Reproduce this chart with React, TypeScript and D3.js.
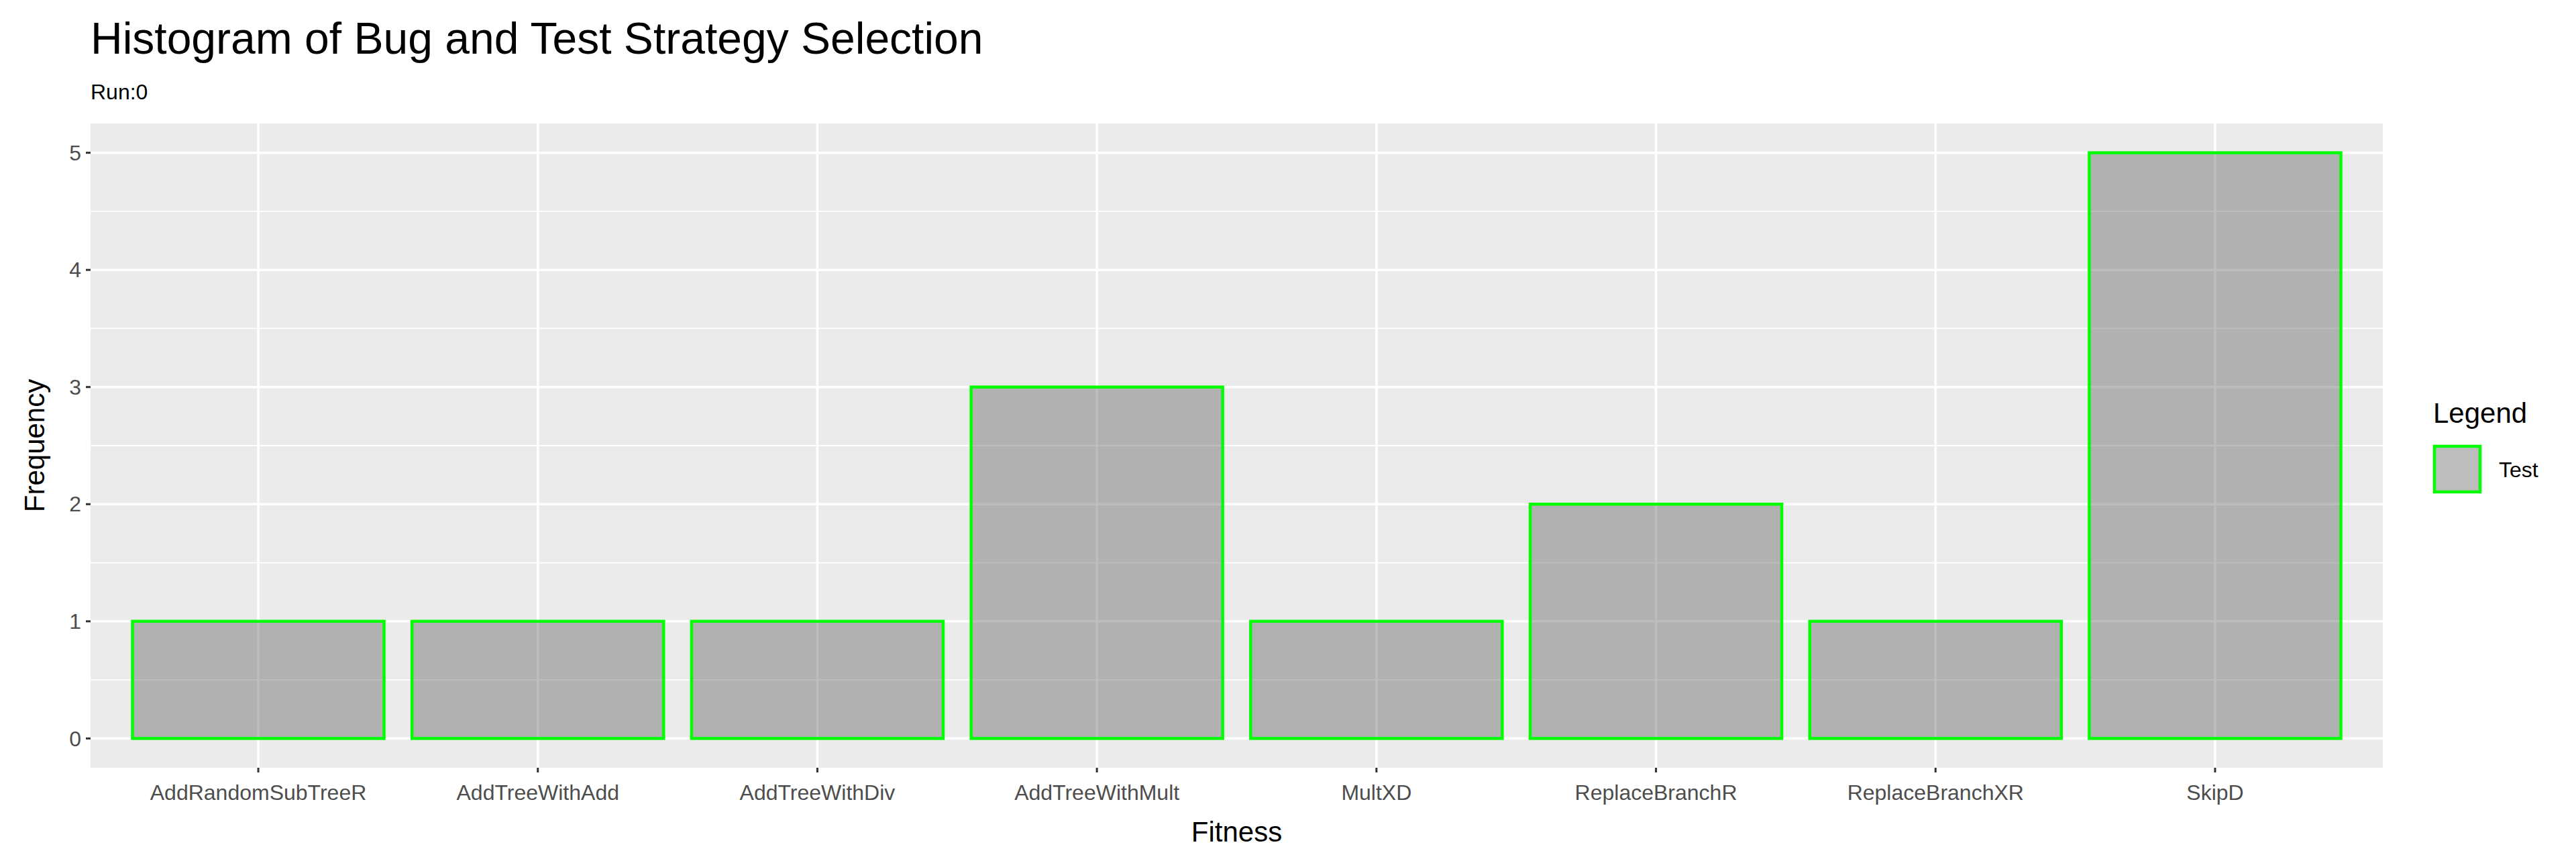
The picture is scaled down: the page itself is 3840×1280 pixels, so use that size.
import * as d3 from 'd3'

const categories = ['AddRandomSubTreeR', 'AddTreeWithAdd', 'AddTreeWithDiv', 'AddTreeWithMult', 'MultXD', 'ReplaceBranchR', 'ReplaceBranchXR', 'SkipD']
const counts = [1, 1, 1, 3, 1, 2, 1, 5]
const yTicks = [0, 1, 2, 3, 4, 5]
const minorTicks = [0.5, 1.5, 2.5, 3.5, 4.5]

const W = 3840
const H = 1280
const panel = { left: 127, right: 3544, top: 176, bottom: 1136 }
const font = '"Liberation Sans", Arial, sans-serif'

export default function App() {
  const x = d3.scaleBand<string>()
    .domain(categories)
    .range([panel.left, panel.right])
    .paddingInner(0)
    .paddingOuter(0.1)
  const y = d3.scaleLinear().domain([-0.25, 5.25]).range([panel.bottom, panel.top])
  const bw = x.bandwidth() * 0.9

  return (
    <svg width={W} height={H} style={{ display: 'block', fontFamily: font }}>
      <rect width={W} height={H} fill="#fff" />
      <text x={127} y={72} fontSize={66} fill="#000">Histogram of Bug and Test Strategy Selection</text>
      <text x={127} y={140} fontSize={32} fill="#000">Run:0</text>

      <rect x={panel.left} y={panel.top} width={panel.right - panel.left} height={panel.bottom - panel.top} fill="#EBEBEB" />
      {minorTicks.map(t => (
        <line key={'m' + t} x1={panel.left} x2={panel.right} y1={y(t)} y2={y(t)} stroke="#fff" strokeWidth={1.8} />
      ))}
      {yTicks.map(t => (
        <line key={'y' + t} x1={panel.left} x2={panel.right} y1={y(t)} y2={y(t)} stroke="#fff" strokeWidth={3.5} />
      ))}
      {categories.map(c => (
        <line key={'x' + c} x1={x(c)! + x.bandwidth() / 2} x2={x(c)! + x.bandwidth() / 2} y1={panel.top} y2={panel.bottom} stroke="#fff" strokeWidth={3.5} />
      ))}

      {categories.map((c, i) => (
        <rect key={'b' + c}
          x={x(c)! + (x.bandwidth() - bw) / 2} y={y(counts[i])}
          width={bw} height={y(0) - y(counts[i])}
          fill="#595959" fillOpacity={0.4} stroke="#00FF00" strokeWidth={4.5} />
      ))}

      {yTicks.map(t => (
        <g key={'yt' + t}>
          <line x1={panel.left - 7} x2={panel.left} y1={y(t)} y2={y(t)} stroke="#333" strokeWidth={3} />
          <text x={panel.left - 14} y={y(t)} dy="0.35em" textAnchor="end" fontSize={32} fill="#4D4D4D">{t}</text>
        </g>
      ))}
      {categories.map(c => (
        <g key={'xt' + c}>
          <line x1={x(c)! + x.bandwidth() / 2} x2={x(c)! + x.bandwidth() / 2} y1={panel.bottom} y2={panel.bottom + 7} stroke="#333" strokeWidth={3} />
          <text x={x(c)! + x.bandwidth() / 2} y={panel.bottom + 48} textAnchor="middle" fontSize={32} fill="#4D4D4D">{c}</text>
        </g>
      ))}

      <text x={(panel.left + panel.right) / 2} y={1246} textAnchor="middle" fontSize={42} fill="#000">Fitness</text>
      <text transform={`translate(58,${(panel.top + panel.bottom) / 2}) rotate(-90)`} textAnchor="middle" fontSize={42} fill="#000">Frequency</text>

      <text x={3619} y={622} fontSize={42} fill="#000">Legend</text>
      <rect x={3621} y={657} width={68} height={68} fill="#595959" fillOpacity={0.4} stroke="#00FF00" strokeWidth={4.5} />
      <text x={3717} y={703} fontSize={32} fill="#000">Test</text>
    </svg>
  )
}
